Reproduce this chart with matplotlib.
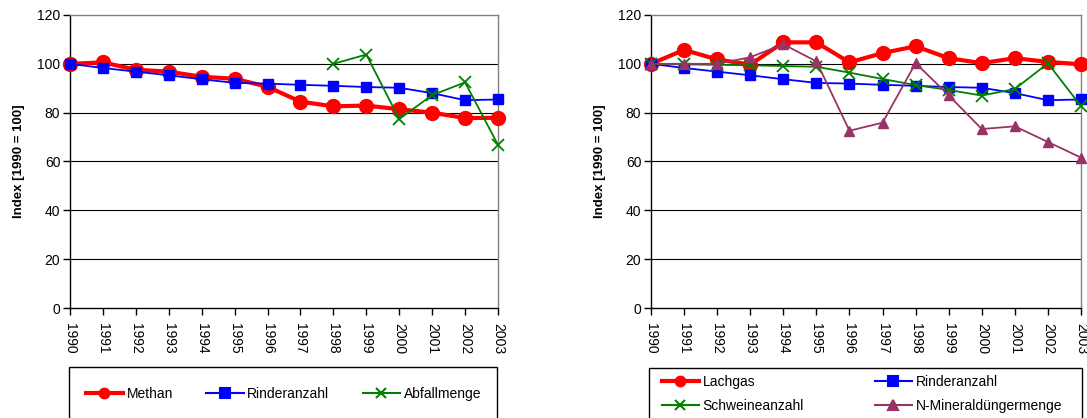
import matplotlib.pyplot as plt
from matplotlib.patches import Rectangle
from matplotlib.lines import Line2D

plt.rcParams['font.family'] = ['Liberation Sans', 'DejaVu Sans']

years = ["1990", "1991", "1992", "1993", "1994", "1995", "1996",
         "1997", "1998", "1999", "2000", "2001", "2002", "2003"]

methan = [100, 100.6, 97.6, 96.8, 94.7, 93.9, 90.6, 84.5, 82.6, 82.9, 81.4, 80.0, 77.8, 77.9]
rinder = [100, 98.3, 96.8, 95.3, 93.7, 92.2, 91.9, 91.4, 91.0, 90.5, 90.2, 88.0, 85.1, 85.4]
abfall_years = ["1998", "1999", "2000", "2001", "2002", "2003"]
abfall = [100, 103.8, 77.4, 87.2, 92.4, 66.8]

lachgas = [100, 105.7, 101.8, 99.7, 108.8, 108.8, 100.6, 104.4, 107.2, 102.3, 100.3, 102.3, 100.8, 99.8]
schweine = [100, 99.8, 99.6, 99.4, 99.1, 98.8, 96.4, 93.8, 91.3, 89.3, 87.0, 89.7, 100.2, 82.7]
mineral = [100, 100, 100, 102.7, 108.0, 101.0, 72.6, 75.9, 100.3, 87.1, 73.3, 74.4, 68.0, 61.6]

RED = "#ff0000"
BLUE = "#0000ff"
GREEN = "#008000"
PURPLE = "#993366"

W, H = 1087, 418
fig = plt.figure(figsize=(W / 100, H / 100), dpi=100)
ax_l = fig.add_axes([70 / W, 110 / H, 428 / W, 293 / H])
ax_r = fig.add_axes([651 / W, 110 / H, 430 / W, 293 / H])

x = list(range(len(years)))
x_abf = [years.index(y) for y in abfall_years]


def style_axes(ax):
    ax.set_xlim(0, len(years) - 1)
    ax.set_ylim(0, 120)
    ax.set_yticks(range(0, 121, 20))
    ax.set_xticks(x)
    ax.set_xticklabels(years, rotation=-90, fontsize=10)
    ax.tick_params(axis="y", labelsize=10, length=5, width=1, direction="out", pad=2)
    ax.tick_params(axis="x", length=5, width=1, direction="out", pad=6)
    for yv in range(20, 120, 20):
        ax.axhline(yv, color="black", linewidth=0.8, zorder=0)
    ax.spines["top"].set_color("#808080")
    ax.spines["right"].set_color("#808080")
    for s in ax.spines.values():
        s.set_linewidth(1.0)
    ax.set_ylabel("Index [1990 = 100]", fontsize=9.5, fontweight="bold", labelpad=9)


# left chart
ax_l.plot(x, methan, color=RED, linewidth=3, marker="o", markersize=10, clip_on=False, zorder=3)
ax_l.plot(x, rinder, color=BLUE, linewidth=1.3, marker="s", markersize=7, clip_on=False, zorder=4)
ax_l.plot(x_abf, abfall, color=GREEN, linewidth=1.3, marker="x", markersize=8,
          markeredgewidth=1.3, clip_on=False, zorder=5)
style_axes(ax_l)

# right chart
ax_r.plot(x, lachgas, color=RED, linewidth=3, marker="o", markersize=10, clip_on=False, zorder=3)
ax_r.plot(x, rinder, color=BLUE, linewidth=1.3, marker="s", markersize=7, clip_on=False, zorder=4)
ax_r.plot(x, schweine, color=GREEN, linewidth=1.3, marker="x", markersize=8,
          markeredgewidth=1.3, clip_on=False, zorder=5)
ax_r.plot(x, mineral, color=PURPLE, linewidth=1.3, marker="^", markersize=7, clip_on=False, zorder=6)
style_axes(ax_r)

# legend boxes, cut off at the bottom edge like the reference
fig.patches.append(Rectangle((69 / W, -0.05), 428 / W, 0.05 + 51 / H,
                             transform=fig.transFigure, fill=False, edgecolor="black", linewidth=1))
fig.patches.append(Rectangle((649 / W, -0.05), 433 / W, 0.05 + 50 / H,
                             transform=fig.transFigure, fill=False, edgecolor="black", linewidth=1))


def handle(color, marker, lw):
    return Line2D([], [], color=color, marker=marker, linewidth=lw, markersize=7, markeredgewidth=1.5)


leg_kw = dict(frameon=False, prop={"size": 10}, handlelength=2.7, handletextpad=0.25, borderpad=0.4)

h_left = [handle(RED, "o", 3), handle(BLUE, "s", 1.5), handle(GREEN, "x", 1.5)]
fig.legend(h_left, ["Methan", "Rinderanzahl", "Abfallmenge"], loc="center left",
           bbox_to_anchor=(73 / W, 24 / H), ncol=3, columnspacing=2.4, **leg_kw)

# ncol=2 fills column by column, so order is Lachgas, Schweine | Rinder, N-Mineral
h_right = [handle(RED, "o", 3), handle(GREEN, "x", 1.5),
           handle(BLUE, "s", 1.5), handle(PURPLE, "^", 1.5)]
fig.legend(h_right, ["Lachgas", "Schweineanzahl", "Rinderanzahl", "N-Mineraldüngermenge"],
           loc="center left", bbox_to_anchor=(649 / W, 24 / H), ncol=2,
           columnspacing=5.1, labelspacing=0.75, **leg_kw)

fig.savefig("out.png", dpi=100)
